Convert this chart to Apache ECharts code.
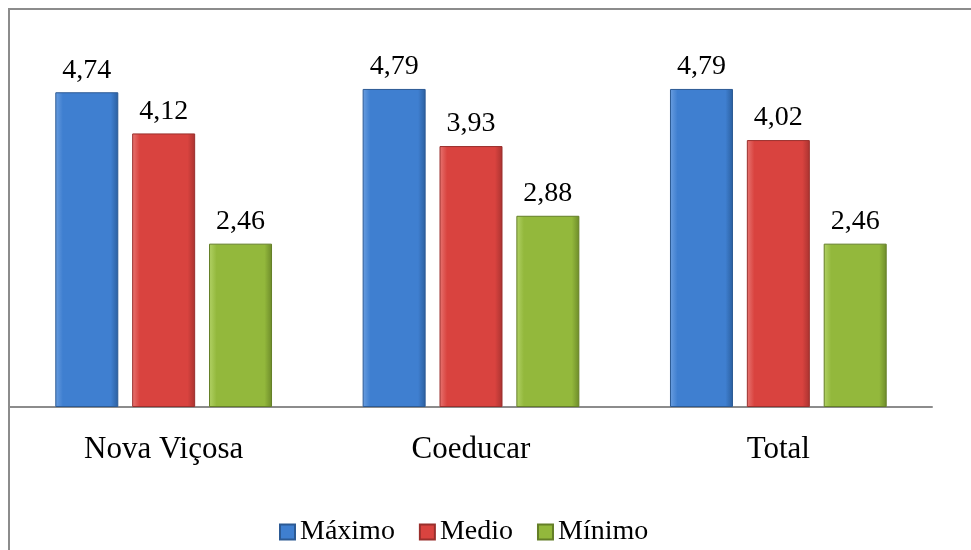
<!DOCTYPE html>
<html>
<head>
<meta charset="utf-8">
<script src="https://cdn.jsdelivr.net/npm/echarts@6/dist/echarts.min.js"></script>
<style>
  html, body { margin: 0; padding: 0; background: #fff; }
  #frame {
    position: absolute; left: 8px; top: 8px; width: 980px; height: 560px;
    border-left: 2px solid #8c8c8c; border-top: 2px solid #8c8c8c;
  }
  #chart { position: absolute; left: 0; top: 0; width: 971px; height: 550px; }
</style>
</head>
<body>
<div id="frame"></div>
<div id="chart"></div>
<script>
// dados do gráfico
const categories = ['Nova Viçosa', 'Coeducar', 'Total']
const maximo = [4.74, 4.79, 4.79]
const medio = [4.12, 3.93, 4.02]
const minimo = [2.46, 2.88, 2.46]
const seriesNames = ['Máximo', 'Medio', 'Mínimo']

const FONT = '"Liberation Serif", "Times New Roman", serif'

function bevel (light, base, dark) {
  return new echarts.graphic.LinearGradient(0, 0, 1, 0, [
    { offset: 0, color: light },
    { offset: 0.12, color: base },
    { offset: 0.88, color: base },
    { offset: 1, color: dark }
  ])
}

function makeSeries (name, data, colors) {
  return {
    name: name,
    type: 'bar',
    data: data,
    barWidth: 63,
    barGap: '22%',
    itemStyle: {
      color: bevel(colors[0], colors[1], colors[2]),
      borderColor: colors[3],
      borderWidth: 1
    },
    label: {
      show: true,
      position: 'top',
      distance: 8,
      color: '#000',
      fontFamily: FONT,
      fontSize: 28,
      formatter: p => String(p.value.toFixed(2)).replace('.', ',')
    }
  }
}

let chart = echarts.init(document.getElementById('chart'))
let option = {
  animation: false,
  grid: { left: 10, right: 39, top: 75, bottom: 143 },
  legend: {
    data: seriesNames,
    top: 513,
    left: 274,
    itemWidth: 15,
    itemHeight: 15,
    itemGap: 24,
    icon: 'rect',
    textStyle: { fontFamily: FONT, fontSize: 28, color: '#000' }
  },
  xAxis: {
    type: 'category',
    data: categories,
    axisLine: { lineStyle: { color: '#8c8c8c', width: 2 } },
    axisTick: { show: false },
    axisLabel: { fontFamily: FONT, fontSize: 31, color: '#000', margin: 27 }
  },
  yAxis: {
    type: 'value',
    min: 0,
    max: 5,
    show: false,
    splitLine: { show: false }
  },
  series: [
    makeSeries(seriesNames[0], maximo, ['#6a9ee0', '#3f7fd0', '#2b5f9f', '#2c5a94']),
    makeSeries(seriesNames[1], medio, ['#e77572', '#d9433f', '#a93330', '#9a2f2c']),
    makeSeries(seriesNames[2], minimo, ['#b2d266', '#93b83c', '#6d8b2a', '#647f27'])
  ]
}
chart.setOption(option)
window.onresize = function () {
  chart.resize()
}
</script>
</body>
</html>
